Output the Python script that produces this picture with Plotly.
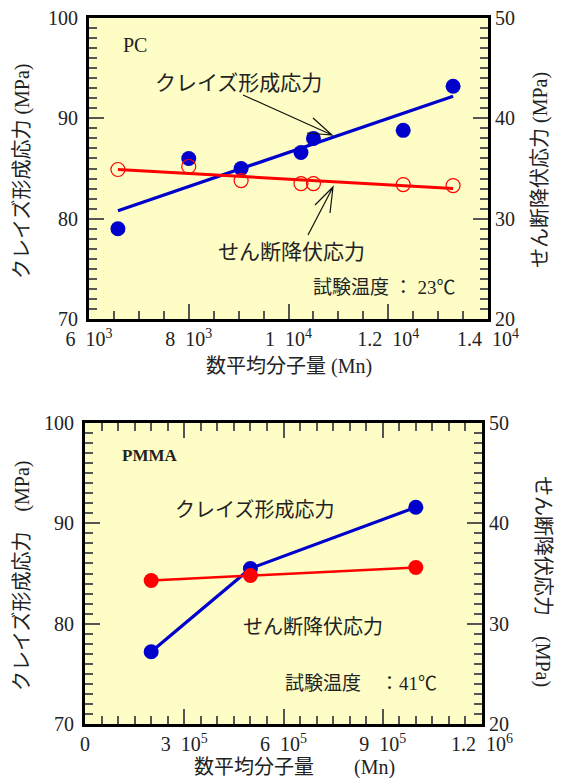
import plotly.graph_objects as go

# ---------------- data ----------------
# PC (top)
pc_mn = [6580, 8000, 9050, 10250, 10500, 12300, 13300]
pc_craze = [79.0, 86.0, 85.0, 86.6, 88.0, 88.8, 93.2]
pc_shear = [34.9, 35.2, 33.8, 33.5, 33.5, 33.4, 33.3]
pc_fit_mn = [6580, 13300]
pc_craze_fit = [80.8, 92.2]
pc_shear_fit = [34.9, 33.0]
pc_xticks = [6000, 8000, 10000, 12000, 14000]
pc_xlabels = ["6\u200210<sup>3</sup>", "8\u200210<sup>3</sup>", "1\u200210<sup>4</sup>",
              "1.2\u200210<sup>4</sup>", "1.4\u200210<sup>4</sup>"]

# PMMA (bottom)
pmma_mn = [2.0e5, 5.0e5, 1.0e6]
pmma_craze = [77.2, 85.5, 91.6]
pmma_shear = [34.3, 34.8, 35.6]
pmma_xticks = [0, 3e5, 6e5, 9e5, 1.2e6]
pmma_xlabels = ["0", "3\u200210<sup>5</sup>", "6\u200210<sup>5</sup>",
                "9\u200210<sup>5</sup>", "1.2\u200210<sup>6</sup>"]

left_ticks = [70, 80, 90, 100]
left_labels = ["70\u2009", "80\u2009", "90\u2009", "100\u2009"]
right_ticks = [20, 30, 40, 50]
right_labels = ["20", "30", "40", "50"]

# ---------------- styling helpers ----------------
# the page body has an 8px margin, so the figure is drawn 8px in from the corner
OFF = 8
W, H = 562 - OFF, 778 - OFF
def px(x):
    return (x - OFF) / W
def py(y):
    return 1 - (y - OFF) / H

BLUE = "#0000CC"
RED = "#FF0000"
TICKC = "#555555"
SERIF = "Liberation Serif, Noto Sans CJK JP"
JP = "Noto Sans CJK JP"

fig = go.Figure()

# top chart traces
fig.add_trace(go.Scatter(x=pc_mn, y=pc_craze, mode="markers", xaxis="x", yaxis="y",
                         marker=dict(color=BLUE, size=15), showlegend=False))
fig.add_trace(go.Scatter(x=pc_fit_mn, y=pc_craze_fit, mode="lines", xaxis="x", yaxis="y",
                         line=dict(color=BLUE, width=3.2), showlegend=False))
fig.add_trace(go.Scatter(x=pc_fit_mn, y=pc_shear_fit, mode="lines", xaxis="x", yaxis="y2",
                         line=dict(color=RED, width=3), showlegend=False))
fig.add_trace(go.Scatter(x=pc_mn, y=pc_shear, mode="markers", xaxis="x", yaxis="y2",
                         marker=dict(symbol="circle-open", color=RED, size=14, line=dict(width=1.2)),
                         showlegend=False))

# bottom chart traces
fig.add_trace(go.Scatter(x=pmma_mn, y=pmma_craze, mode="lines+markers", xaxis="x2", yaxis="y3",
                         line=dict(color=BLUE, width=3.2), marker=dict(color=BLUE, size=15),
                         showlegend=False))
fig.add_trace(go.Scatter(x=pmma_mn, y=pmma_shear, mode="lines+markers", xaxis="x2", yaxis="y4",
                         line=dict(color=RED, width=2.5), marker=dict(color=RED, size=15),
                         showlegend=False))

tickfont = dict(family=SERIF, size=20, color="#222222")

def xaxis(domain, anchor, rng, tickvals, ticktext, dminor, mirror):
    return dict(domain=domain, anchor=anchor, range=rng, tickmode="array",
                tickvals=tickvals, ticktext=ticktext,
                ticks="inside", ticklen=15, tickwidth=1.5, tickcolor=TICKC,
                minor=dict(dtick=dminor, tick0=0, ticks="inside", ticklen=8, tickwidth=1.5,
                           tickcolor=TICKC, showgrid=False),
                showline=True, linewidth=3, linecolor="black", mirror=mirror,
                showgrid=False, zeroline=False, tickfont=tickfont, automargin=False,
                ticklabeloverflow="allow")

def yaxis(domain, anchor, rng, tickvals, ticktext, side, overlaying=None):
    d = dict(anchor=anchor, range=rng, tickmode="array", tickvals=tickvals, ticktext=ticktext,
             side=side, ticks="inside", ticklen=15, tickwidth=1.5, tickcolor=TICKC,
             minor=dict(dtick=1, tick0=0, ticks="inside", ticklen=8, tickwidth=1.5,
                        tickcolor=TICKC, showgrid=False),
             showline=True, linewidth=3, linecolor="black",
             showgrid=False, zeroline=False, tickfont=tickfont, automargin=False,
             ticklabeloverflow="allow")
    if overlaying:
        d["overlaying"] = overlaying
    else:
        d["domain"] = domain
    return d

top_x = [px(89), px(488)]
top_y = [py(319), py(18)]
bot_x = [px(85), px(482)]
bot_y = [py(724), py(423)]

fig.update_layout(
    width=W, height=H,
    margin=dict(l=0, r=0, t=0, b=0, autoexpand=False),
    paper_bgcolor="white",
    plot_bgcolor="#FDFDC5",
    xaxis=xaxis(top_x, "y", [6000, 14000], pc_xticks, pc_xlabels, 500, True),
    yaxis=yaxis(top_y, "x", [70, 100], left_ticks, left_labels, "left"),
    yaxis2=yaxis(None, "x", [20, 50], right_ticks, right_labels, "right", overlaying="y"),
    xaxis2=xaxis(bot_x, "y3", [0, 1.2e6], pmma_xticks, pmma_xlabels, 5e4, "ticks"),
    yaxis3=yaxis(bot_y, "x2", [70, 100], left_ticks, left_labels, "left"),
    yaxis4=yaxis(None, "x2", [20, 50], right_ticks, right_labels, "right", overlaying="y3"),
)

def note(text, x, y, size=20, angle=0, xanchor="center", family=JP, bold=False):
    if bold:
        text = "<b>" + text + "</b>"
    fig.add_annotation(text=text, x=px(x), y=py(y), xref="paper", yref="paper",
                       showarrow=False, textangle=angle, xanchor=xanchor, yanchor="middle",
                       font=dict(family=family, size=size, color="#222222"))

# top chart texts
note("PC", 121, 45, size=20, xanchor="left", family=SERIF)
note("クレイズ形成応力", 153, 81, size=21, xanchor="left")
note("せん断降伏応力", 216, 250, size=21, xanchor="left")
note("試験温度 ： 23℃", 311, 287, size=19, xanchor="left", family=SERIF)
note("クレイズ形成応力 (MPa)", 22, 171, size=20, angle=-90, family=SERIF)
note("せん断降伏応力 (MPa)", 541, 170, size=20, angle=-90, family=SERIF)
note("数平均分子量 (Mn)", 289, 366, size=20, family=SERIF)

# bottom chart texts
note("PMMA", 120, 455, size=17, xanchor="left", family=SERIF, bold=True)
note("クレイズ形成応力", 173, 508, size=20, xanchor="left")
note("せん断降伏応力", 241, 625, size=20, xanchor="left")
note("試験温度　：41℃", 283, 683, size=19, xanchor="left", family=SERIF)
note("クレイズ形成応力　(MPa)", 22, 576, size=20, angle=-90, family=SERIF)
note("せん断降伏応力　(MPa)", 543, 581, size=20, angle=90, family=SERIF)
note("数平均分子量　　(Mn)", 294, 767, size=20, family=SERIF)

# arrows (open V heads)
def arrow(x0, y0, tip, b1, b2):
    path = (f"M {px(x0)},{py(y0)} L {px(tip[0])},{py(tip[1])} "
            f"M {px(b1[0])},{py(b1[1])} L {px(tip[0])},{py(tip[1])} L {px(b2[0])},{py(b2[1])}")
    fig.add_shape(type="path", path=path, xref="paper", yref="paper",
                  line=dict(color="#111111", width=1.2))

arrow(243, 95, (332, 135), (313, 118), (307, 133))
arrow(308, 235, (333, 187), (315, 205), (330, 213))

fig.write_html("out.html")
